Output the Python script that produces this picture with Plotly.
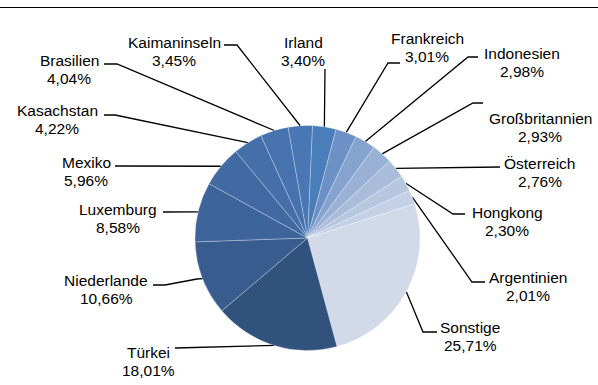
import math
import plotly.graph_objects as go

# Anteile nach Land, im Uhrzeigersinn ab 12 Uhr
laender = ["Irland", "Frankreich", "Indonesien", "Großbritannien", "Österreich",
           "Hongkong", "Argentinien", "Sonstige", "Türkei", "Niederlande",
           "Luxemburg", "Mexiko", "Kasachstan", "Brasilien", "Kaimaninseln"]
anteile = [3.40, 3.01, 2.98, 2.93, 2.76, 2.30, 2.01, 25.71, 18.01, 10.66,
           8.58, 5.96, 4.22, 4.04, 3.45]
farben = ["#4a7ebb", "#6d91c6", "#86a2ce", "#99b1d5", "#a9bddb", "#b6c7e0",
          "#c3d0e5", "#d2daea", "#30527c", "#385c8d", "#3e659b", "#4169a2",
          "#446fa9", "#4673ae", "#4877b4"]

# Layout (pixel coordinates, y downward)
W, H = 598, 385
CX, CY, R = 307.5, 238.0, 112.5
ROTATION = 2.5
FONT = dict(family="Liberation Sans, Arial, sans-serif", size=15.5, color="#000000")
LINE_GAP = 18

# label centre (name line) and leader-line knee points, per country
label_pos = {
    "Irland": (303, 42), "Frankreich": (427, 38), "Indonesien": (522, 53),
    "Großbritannien": (540, 118), "Österreich": (540, 163), "Hongkong": (507, 212),
    "Argentinien": (528, 277), "Sonstige": (470, 327), "Türkei": (148, 352),
    "Niederlande": (106, 280), "Luxemburg": (118, 209), "Mexiko": (86, 162),
    "Kasachstan": (57, 110), "Brasilien": (69, 60), "Kaimaninseln": (174, 42),
}
leader_knees = {
    "Irland": [(325, 69)], "Frankreich": [(388, 63), (400, 63)],
    "Indonesien": [(468, 57), (478, 57)], "Großbritannien": [(473, 103), (483, 103)],
    "Österreich": [(500, 167)], "Hongkong": [(453, 214), (465, 214)],
    "Argentinien": [(472, 282), (485, 282)], "Sonstige": [(423, 332), (437, 332)],
    "Türkei": [(175, 348)], "Niederlande": [(197, 279), (165, 285), (153, 285)],
    "Luxemburg": [(163, 212)], "Mexiko": [(115, 166)],
    "Kasachstan": [(115, 115), (104, 115)], "Brasilien": [(117, 64), (104, 64)],
    "Kaimaninseln": [(237, 45), (224, 45)],
}

fig = go.Figure()

fig.add_trace(go.Pie(
    labels=laender, values=anteile, sort=False, direction="clockwise",
    rotation=ROTATION, textinfo="none", hoverinfo="label+percent",
    marker=dict(colors=farben, line=dict(color="rgba(255,255,255,0.35)", width=0.8)),
    domain=dict(x=[(CX - R) / W, (CX + R) / W],
                y=[(H - CY - R) / H, (H - CY + R) / H]),
    showlegend=False,
))

# leader lines from the middle of each slice's outer edge
total = sum(anteile)
cum = 0.0
annotations = []
for name, val in zip(laender, anteile):
    theta = math.radians(ROTATION + 360.0 * (cum + val / 2) / total)
    cum += val
    ex, ey = CX + R * math.sin(theta), CY - R * math.cos(theta)
    pts = [(ex, ey)] + leader_knees[name]
    fig.add_trace(go.Scatter(
        x=[p[0] for p in pts], y=[p[1] for p in pts], mode="lines",
        line=dict(color="#000000", width=1.3), hoverinfo="skip", showlegend=False,
    ))
    lx, ly = label_pos[name]
    pct = f"{val:.2f}".replace(".", ",") + "%"
    for txt, yy in ((name, ly), (pct, ly + LINE_GAP)):
        annotations.append(dict(x=lx, y=yy, xref="x", yref="y", text=txt,
                                showarrow=False, xanchor="center", yanchor="middle",
                                font=FONT))

fig.update_layout(
    width=W, height=H, margin=dict(l=0, r=0, t=0, b=0),
    paper_bgcolor="white", plot_bgcolor="rgba(0,0,0,0)",
    xaxis=dict(range=[0, W], visible=False, fixedrange=True),
    yaxis=dict(range=[H, 0], visible=False, fixedrange=True),
    annotations=annotations,
    shapes=[dict(type="line", xref="x", yref="y", x0=0, x1=W, y0=7.5, y1=7.5,
                 line=dict(color="#000000", width=1.2))],
)

fig.write_html("out.html")
